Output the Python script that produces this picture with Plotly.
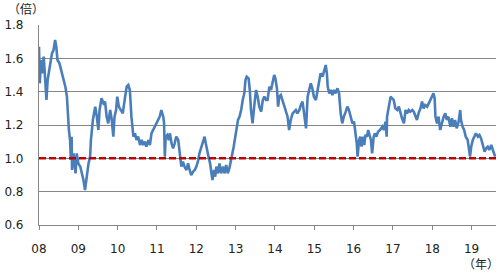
import plotly.graph_objects as go

# ---- data (decimal year, ratio) ----
DATES = [
    2008.00, 2008.02, 2008.05, 2008.08, 2008.12, 2008.16, 2008.19, 2008.22, 2008.27, 2008.33,
    2008.37, 2008.41, 2008.44, 2008.47, 2008.52, 2008.56, 2008.61, 2008.67, 2008.71, 2008.73,
    2008.76, 2008.79, 2008.81, 2008.83, 2008.84, 2008.88, 2008.90, 2008.93, 2008.96,
    2009.00, 2009.05, 2009.09, 2009.13, 2009.17, 2009.22, 2009.26, 2009.30, 2009.32, 2009.37,
    2009.40, 2009.43, 2009.47, 2009.51, 2009.54, 2009.59, 2009.64, 2009.68, 2009.72, 2009.76,
    2009.81, 2009.85, 2009.89, 2009.92, 2009.96, 2009.99,
    2010.03, 2010.08, 2010.13, 2010.19, 2010.23, 2010.27, 2010.31, 2010.35, 2010.40, 2010.44,
    2010.48, 2010.52, 2010.57, 2010.61, 2010.65, 2010.69, 2010.73, 2010.78, 2010.82, 2010.86,
    2010.90, 2010.95, 2010.99,
    2011.03, 2011.07, 2011.11, 2011.16, 2011.18, 2011.20, 2011.22, 2011.26, 2011.30, 2011.33,
    2011.37, 2011.41, 2011.45, 2011.49, 2011.54, 2011.58, 2011.62, 2011.66, 2011.70, 2011.75,
    2011.79, 2011.83, 2011.87, 2011.92, 2011.96,
    2012.00, 2012.04, 2012.08, 2012.13, 2012.17, 2012.21, 2012.24, 2012.28, 2012.31, 2012.35,
    2012.38, 2012.41, 2012.45, 2012.48, 2012.51, 2012.55, 2012.59, 2012.63, 2012.68, 2012.72,
    2012.76, 2012.80, 2012.84, 2012.87, 2012.90, 2012.95, 2012.99,
    2013.02, 2013.06, 2013.10, 2013.14, 2013.18, 2013.22, 2013.25, 2013.28, 2013.33, 2013.36,
    2013.39, 2013.43, 2013.48, 2013.52, 2013.56, 2013.60, 2013.65, 2013.69, 2013.73, 2013.77,
    2013.81, 2013.86, 2013.90, 2013.94, 2013.98,
    2014.01, 2014.05, 2014.08, 2014.11, 2014.15, 2014.19, 2014.24, 2014.28, 2014.32, 2014.36,
    2014.40, 2014.45, 2014.49, 2014.53, 2014.57, 2014.62, 2014.66, 2014.70, 2014.74, 2014.79,
    2014.83, 2014.87, 2014.91, 2014.95, 2014.99,
    2015.04, 2015.08, 2015.12, 2015.16, 2015.21, 2015.25, 2015.29, 2015.32, 2015.34, 2015.38,
    2015.42, 2015.46, 2015.50, 2015.54, 2015.59, 2015.63, 2015.67, 2015.71, 2015.75, 2015.80,
    2015.84, 2015.88, 2015.92, 2015.97,
    2016.01, 2016.05, 2016.08, 2016.10, 2016.14, 2016.17, 2016.20, 2016.24, 2016.27, 2016.30,
    2016.34, 2016.37, 2016.41, 2016.44, 2016.47, 2016.51, 2016.54, 2016.58, 2016.62, 2016.67,
    2016.73, 2016.77, 2016.81, 2016.84, 2016.85, 2016.89, 2016.94, 2016.98,
    2017.02, 2017.06, 2017.11, 2017.15, 2017.19, 2017.23, 2017.28, 2017.32, 2017.36, 2017.40,
    2017.44, 2017.49, 2017.53, 2017.57, 2017.61, 2017.65, 2017.70, 2017.74, 2017.78, 2017.82,
    2017.87, 2017.91, 2017.95, 2017.99,
    2018.03, 2018.06, 2018.08, 2018.12, 2018.16, 2018.20, 2018.24, 2018.29, 2018.33, 2018.37,
    2018.41, 2018.46, 2018.50, 2018.54, 2018.58, 2018.62, 2018.67, 2018.71, 2018.73, 2018.77,
    2018.81, 2018.85, 2018.90, 2018.93, 2018.96, 2018.99,
    2019.03, 2019.07, 2019.11, 2019.16, 2019.20, 2019.24, 2019.28, 2019.33, 2019.37, 2019.41,
    2019.45, 2019.50, 2019.54, 2019.57, 2019.60,
]

RATIO = [
    1.67, 1.45, 1.59, 1.51, 1.61, 1.47, 1.35, 1.47, 1.55, 1.63,
    1.65, 1.71, 1.67, 1.59, 1.57, 1.53, 1.49, 1.43, 1.37, 1.27,
    1.17, 1.11, 0.99, 1.13, 0.93, 1.03, 0.97, 0.91, 1.03,
    0.97, 0.95, 0.91, 0.87, 0.81, 0.91, 0.97, 1.01, 1.11, 1.23,
    1.27, 1.31, 1.25, 1.17, 1.29, 1.36, 1.33, 1.34, 1.25, 1.21,
    1.29, 1.23, 1.13, 1.25, 1.29, 1.37,
    1.31, 1.29, 1.27, 1.37, 1.43, 1.44, 1.41, 1.25, 1.13, 1.15,
    1.11, 1.13, 1.08, 1.11, 1.08, 1.10, 1.07, 1.11, 1.08, 1.15,
    1.17, 1.19, 1.21,
    1.23, 1.25, 1.29, 1.25, 1.21, 1.01, 1.13, 1.14, 1.11, 1.15,
    1.09, 1.06, 1.09, 1.13, 1.11, 1.01, 0.95, 0.98, 0.95, 0.93,
    0.97, 0.93, 0.90, 0.92, 0.93,
    0.95, 0.98, 1.03, 1.07, 1.10, 1.13, 1.09, 1.03, 1.01, 0.97,
    0.91, 0.87, 0.93, 0.89, 0.95, 0.91, 0.97, 0.91, 0.95, 0.91,
    0.96, 0.91, 0.94, 0.97, 1.01, 1.07, 1.13,
    1.17, 1.23, 1.25, 1.29, 1.35, 1.39, 1.47, 1.49, 1.48, 1.41,
    1.29, 1.21, 1.33, 1.41, 1.37, 1.31, 1.28, 1.35, 1.37, 1.35,
    1.35, 1.43, 1.41, 1.46, 1.50,
    1.48, 1.42, 1.31, 1.37, 1.38, 1.35, 1.31, 1.28, 1.25, 1.17,
    1.23, 1.27, 1.28, 1.29, 1.27, 1.29, 1.32, 1.34, 1.27, 1.18,
    1.37, 1.42, 1.45, 1.42, 1.37,
    1.35, 1.41, 1.47, 1.51, 1.49, 1.53, 1.56, 1.51, 1.43, 1.39,
    1.41, 1.38, 1.41, 1.39, 1.42, 1.39, 1.27, 1.21, 1.25, 1.28,
    1.31, 1.29, 1.25, 1.21,
    1.22, 1.15, 1.09, 1.01, 1.11, 1.13, 1.07, 1.13, 1.08, 1.14,
    1.13, 1.17, 1.13, 1.11, 1.03, 1.13, 1.15, 1.13, 1.16, 1.17,
    1.19, 1.17, 1.22, 1.13, 1.25, 1.31, 1.37, 1.36,
    1.35, 1.30, 1.29, 1.31, 1.27, 1.24, 1.21, 1.29, 1.27, 1.29,
    1.28, 1.29, 1.28, 1.25, 1.23, 1.27, 1.30, 1.34, 1.30, 1.32,
    1.31, 1.33, 1.35, 1.38,
    1.39, 1.36, 1.25, 1.21, 1.25, 1.17, 1.21, 1.25, 1.27, 1.23,
    1.25, 1.19, 1.24, 1.19, 1.23, 1.18, 1.22, 1.29, 1.23, 1.19,
    1.17, 1.13, 1.11, 1.05, 1.01, 1.07,
    1.11, 1.13, 1.15, 1.13, 1.14, 1.12, 1.09, 1.04, 1.06, 1.07,
    1.05, 1.08, 1.05, 1.03, 1.01,
]

assert len(DATES) == len(RATIO), (len(DATES), len(RATIO))

YEAR_TICKS = list(range(2008, 2020))
YEAR_LABELS = ["08", "09", "10", "11", "12", "13", "14", "15", "16", "17", "18", "19"]
X_RANGE = [2008.0, 2019.62]
Y_RANGE = [0.6, 1.8]
PARITY = 1.0

GRID = "#868686"
BLUE = "#4a7ebb"
RED = "#c00000"

fig = go.Figure()
fig.add_trace(go.Scatter(
    x=DATES, y=RATIO, mode="lines",
    line=dict(color=BLUE, width=2.6), hoverinfo="skip",
))
fig.add_trace(go.Scatter(
    x=X_RANGE, y=[PARITY, PARITY], mode="lines",
    line=dict(color=RED, width=2.5, dash="7px,3px"), hoverinfo="skip",
))

fig.update_layout(
    width=500, height=274,
    margin=dict(l=37, r=4, t=25, b=49),
    plot_bgcolor="white", paper_bgcolor="white",
    showlegend=False,
    font=dict(family="DejaVu Sans", size=12, color="#222222"),
    xaxis=dict(
        range=X_RANGE, tickvals=YEAR_TICKS, ticktext=YEAR_LABELS,
        showgrid=False, zeroline=False,
        showline=True, linecolor=GRID, linewidth=1.2,
        ticks="outside", ticklen=4, tickwidth=1.2, tickcolor=GRID,
        ticklabelstandoff=8,
    ),
    yaxis=dict(
        range=Y_RANGE, dtick=0.2, tick0=0.6, tickformat=".1f",
        showgrid=True, gridcolor=GRID, gridwidth=1.2, zeroline=False,
        showline=True, linecolor=GRID, linewidth=1.2,
        ticks="", ticklabelstandoff=12,
    ),
    annotations=[
        dict(text="（倍）", xref="paper", yref="paper",
             x=(23.5 - 37) / 459, y=(225 - 9) / 200,
             xanchor="center", yanchor="middle", showarrow=False,
             font=dict(family="Noto Sans CJK JP", size=12, color="#222222")),
        dict(text="（年）", xref="paper", yref="paper",
             x=(481 - 37) / 459, y=(225 - 263) / 200,
             xanchor="center", yanchor="middle", showarrow=False,
             font=dict(family="Noto Sans CJK JP", size=12, color="#222222")),
    ],
)

fig.write_html("out.html")
